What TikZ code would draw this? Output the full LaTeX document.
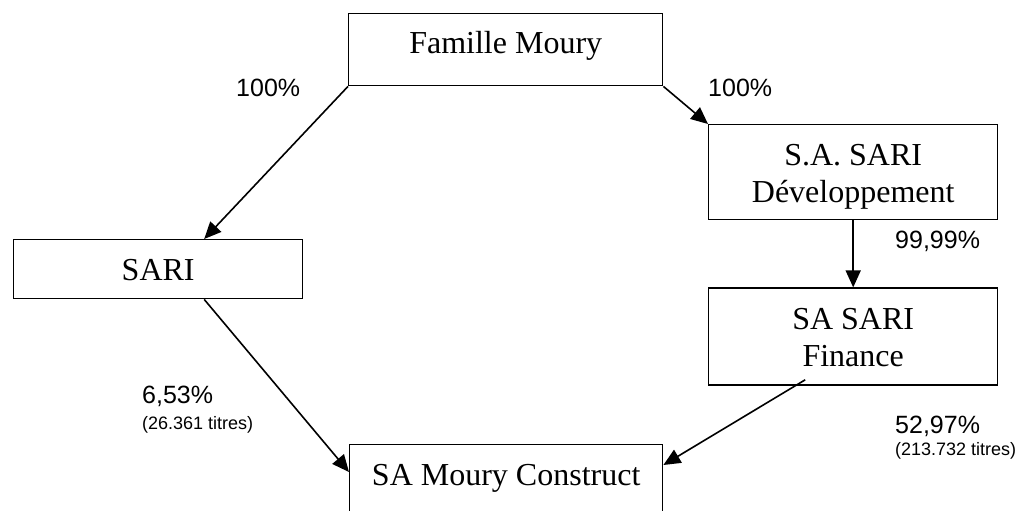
\documentclass[tikz,border=0pt]{standalone}
\usepackage{fontspec}
\setmainfont{Liberation Serif}
\newfontfamily\pctfont{Liberation Sans}
\usetikzlibrary{arrows.meta,positioning}

\begin{document}
\begin{tikzpicture}[
            x=1pt, y=-1pt,
            node distance=67pt,
            box/.style={draw, line width=1.4pt, inner sep=0pt, align=center, anchor=north west,
                        font=\fontsize{32}{37}\selectfont},
            pct/.style={font=\pctfont\fontsize{25}{28}\selectfont, inner sep=0pt, anchor=base west},
            titres/.style={font=\pctfont\fontsize{18}{20}\selectfont, inner sep=0pt, anchor=base west},
            >={Triangle[length=17pt, width=15pt]}
        ]
        \useasboundingbox (0,0) rectangle (1023,511);

        \node[box, minimum width=314pt, text height=40pt, text depth=32pt] (fam) at (348,13) {Famille Moury};
        \node[box, minimum width=289pt, text height=78pt, text depth=17pt] (dev) at (708,124) {S.A. SARI\\Développement};
        \node[box, minimum width=289pt, text height=78pt, text depth=19pt, below=of dev] (fin) {SA SARI\\Finance};
        \node[box, minimum width=289pt, text height=41pt, text depth=18pt] (sari) at (13,239) {SARI};
        \node[box, minimum width=313pt, text height=41pt, text depth=50pt] (mc) at (349,444) {SA Moury Construct};

        \draw[->, line width=1.6pt] (fam.south west) -- ([xshift=46pt]sari.north);
        \draw[->, line width=1.6pt] (fam.south east) -- (dev.north west);
        \draw[->, line width=1.6pt] (dev.south) -- (fin.north);
        \draw[->, line width=1.6pt] ([xshift=46pt]sari.south) -- ([yshift=-28pt]mc.north west);
        \draw[->, line width=1.6pt] ([xshift=-48pt, yshift=6pt]fin.south) -- ([yshift=-21pt]mc.north east);

        \node[pct] (p1) at (236,96) {100\%};
        \node[pct] (p2) at (708,96) {100\%};
        \node[pct] (p3) at (895,248) {99,99\%};
        \node[pct] (p4) at (142,403) {6,53\%};
        \node[titres] (t4) at (142,429) {(26.361 titres)};
        \node[pct] (p5) at (895,433) {52,97\%};
        \node[titres] (t5) at (895,455) {(213.732 titres)};
    \end{tikzpicture}
\end{document}
